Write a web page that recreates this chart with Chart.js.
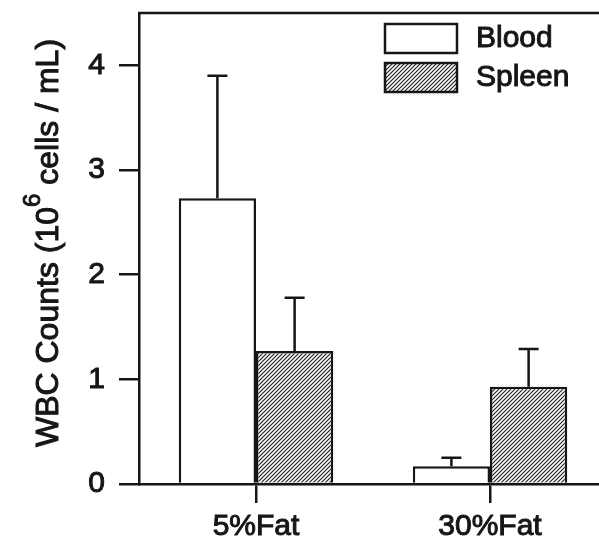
<!DOCTYPE html>
<html>
<head>
<meta charset="utf-8">
<script src="https://cdn.jsdelivr.net/npm/chart.js@4.4.0/dist/chart.umd.min.js"></script>
<style>
  body { margin: 0; background: #fff; overflow: hidden; }
</style>
</head>
<body>
<canvas id="wbcChart" width="607" height="548"></canvas>
<script>
// data
var groups = ['5%Fat', '30%Fat'];
var bloodVals = [2.73, 0.17];
var bloodErr = [1.17, 0.08];
var spleenVals = [1.27, 0.93];
var spleenErr = [0.51, 0.36];
var yTicks = [0, 1, 2, 3, 4];

var FONT = '"Liberation Sans", Arial, Helvetica, sans-serif';
var INK = '#161616';

function makeHatch() {
  var c = document.createElement('canvas');
  c.width = 4; c.height = 4;
  var g = c.getContext('2d');
  g.fillStyle = '#fff';
  g.fillRect(0, 0, 4, 4);
  g.strokeStyle = '#222';
  g.lineWidth = 1.2;
  g.beginPath();
  g.moveTo(-1, 5); g.lineTo(5, -1);
  g.moveTo(-1, 1); g.lineTo(1, -1);
  g.moveTo(3, 5); g.lineTo(5, 3);
  g.stroke();
  return g.createPattern(c, 'repeat');
}
var hatch = makeHatch();

// heavier text, like the scanned figure
function inkText(ctx, s, x, y) {
  ctx.fillText(s, x, y);
  ctx.strokeText(s, x, y);
}

// error bars (upper only) on every bar
var errorBars = {
  id: 'errorBars',
  afterDatasetsDraw: function(chart) {
    var ctx = chart.ctx;
    var y = chart.scales.y;
    ctx.save();
    ctx.strokeStyle = INK;
    ctx.lineWidth = 2.5;
    chart.data.datasets.forEach(function(ds, i) {
      var meta = chart.getDatasetMeta(i);
      meta.data.forEach(function(bar, j) {
        var top = y.getPixelForValue(ds.data[j] + ds.err[j]);
        ctx.beginPath();
        ctx.moveTo(bar.x, bar.y);
        ctx.lineTo(bar.x, top);
        ctx.moveTo(bar.x - 10, top);
        ctx.lineTo(bar.x + 10, top);
        ctx.stroke();
      });
    });
    ctx.restore();
  }
};

// top frame line, y title with superscript, legend boxes
var extras = {
  id: 'extras',
  afterDraw: function(chart) {
    var ctx = chart.ctx;
    var a = chart.chartArea;
    ctx.save();
    ctx.strokeStyle = INK;
    ctx.lineWidth = 2.5;
    ctx.beginPath();
    ctx.moveTo(a.left - 1, a.top);
    ctx.lineTo(chart.width, a.top);
    ctx.stroke();

    // y axis title
    var p1 = 'WBC Counts (10', sup = '6', p2 = ' cells / mL)';
    var big = '32px ' + FONT, small = '24px ' + FONT;
    ctx.font = big;
    var w1 = ctx.measureText(p1).width, w3 = ctx.measureText(p2).width;
    ctx.font = small;
    var w2 = ctx.measureText(sup).width;
    var total = w1 + w2 + w3;
    ctx.translate(46, 243);
    ctx.rotate(-Math.PI / 2);
    ctx.fillStyle = INK;
    ctx.lineWidth = 1;
    ctx.textBaseline = 'alphabetic';
    ctx.textAlign = 'left';
    var x0 = -total / 2;
    ctx.font = big;
    inkText(ctx, p1, x0, 12);
    ctx.font = small;
    inkText(ctx, sup, x0 + w1, -6);
    ctx.font = big;
    inkText(ctx, p2, x0 + w1 + w2, 12);
    ctx.setTransform(1, 0, 0, 1, 0, 0);

    // legend
    var boxes = [{ y: 24, fill: '#fff' }, { y: 63, fill: hatch }];
    chart.data.datasets.forEach(function(ds, i) {
      var b = boxes[i];
      ctx.fillStyle = b.fill;
      ctx.fillRect(385, b.y, 72, 29);
      ctx.lineWidth = 2.5;
      ctx.strokeStyle = INK;
      ctx.strokeRect(385, b.y, 72, 29);
      ctx.fillStyle = INK;
      ctx.lineWidth = 1;
      ctx.font = '30px ' + FONT;
      ctx.textBaseline = 'middle';
      inkText(ctx, ds.label, 476, b.y + 15);
    });
    ctx.restore();
  }
};

var ctx = document.getElementById('wbcChart').getContext('2d');

var options = {
  responsive: false,
  animation: false,
  layout: { padding: { top: 13, left: 0, right: 0, bottom: 0 } },
  plugins: {
    legend: { display: false },
    tooltip: { enabled: false }
  },
  scales: {
    x: {
      grid: { drawOnChartArea: false, offset: false, tickLength: 19, color: INK, lineWidth: 2.5 },
      border: { color: INK, width: 2.5 },
      ticks: {
        color: INK, font: { family: FONT, size: 30 }, padding: 6, maxRotation: 0,
        textStrokeColor: INK, textStrokeWidth: 1
      },
      afterFit: function(s) { s.height = 64; s.paddingLeft = 0; s.paddingRight = 0; }
    },
    y: {
      min: 0,
      max: 4.5,
      grid: { drawOnChartArea: false, tickLength: 20, color: INK, lineWidth: 2.5 },
      border: { color: INK, width: 2.5 },
      ticks: {
        stepSize: 1, color: INK, font: { family: FONT, size: 30 }, padding: 14,
        textStrokeColor: INK, textStrokeWidth: 1
      },
      afterBuildTicks: function(s) {
        s.ticks = yTicks.map(function(v) { return { value: v }; });
      },
      afterFit: function(s) { s.width = 139; s.paddingTop = 0; s.paddingBottom = 0; }
    }
  }
};

var wbcChart = new Chart(ctx, {
  type: 'bar',
  options: options,
  plugins: [errorBars, extras],
  data: {
    labels: groups,
    datasets: [{
      label: 'Blood',
      data: bloodVals,
      err: bloodErr,
      backgroundColor: '#fff',
      borderColor: INK,
      borderWidth: 2.5,
      categoryPercentage: 0.66,
      barPercentage: 1
    }, {
      label: 'Spleen',
      data: spleenVals,
      err: spleenErr,
      backgroundColor: hatch,
      borderColor: INK,
      borderWidth: 2.5,
      categoryPercentage: 0.66,
      barPercentage: 1
    }]
  }
});
</script>
</body>
</html>
